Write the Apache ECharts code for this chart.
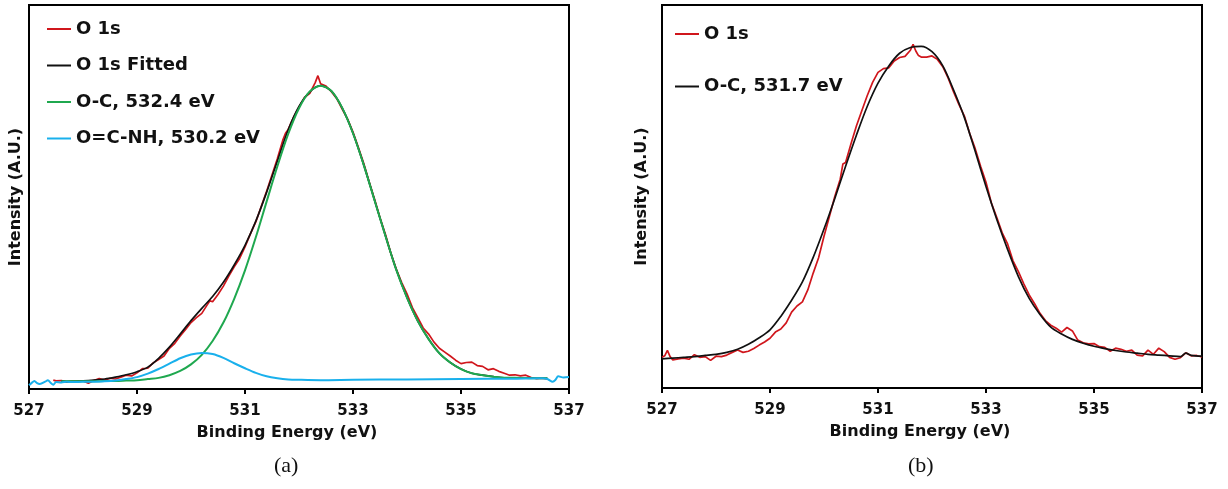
<!DOCTYPE html>
<html>
<head>
<meta charset="utf-8">
<script src="https://cdn.jsdelivr.net/npm/echarts@6/dist/echarts.min.js"></script>
<style>
html,body{margin:0;padding:0;background:#fff;}
#chart{width:1228px;height:489px;}
</style>
</head>
<body>
<div id="chart"></div>
<script>
// ---- axis ----
const xMin = 527, xMax = 537, xStep = 2;
const xTitle = 'Binding Energy (eV)';
const yTitle = 'Intensity (A.U.)';
const panelLabels = ['(a)', '(b)'];

// ---- panel (a) ----
const aNames = ['O 1s', 'O 1s Fitted', 'O-C, 532.4 eV', 'O=C-NH, 530.2 eV'];
const aRaw = [[527.45,2.3],[527.5,2.1],[527.6,2.2],[527.7,1.8],[527.8,2.0],[527.9,1.9],[528.0,2.1],[528.1,1.5],[528.2,2.2],[528.3,2.7],[528.4,2.3],[528.5,2.8],[528.6,2.6],[528.7,3.1],[528.8,3.6],[528.9,3.4],[529.0,4.2],[529.1,5.3],[529.2,5.4],[529.3,6.8],[529.4,7.7],[529.5,8.6],[529.6,10.6],[529.7,11.9],[529.8,13.8],[529.9,15.5],[530.0,17.3],[530.1,18.6],[530.2,19.7],[530.3,21.9],[530.35,23.0],[530.4,22.7],[530.5,24.6],[530.6,26.8],[530.7,29.4],[530.8,31.8],[530.9,34.0],[531.0,37.0],[531.1,40.4],[531.2,43.5],[531.3,47.5],[531.4,51.5],[531.5,55.7],[531.6,60.0],[531.7,64.8],[531.75,66.6],[531.8,67.6],[531.9,70.8],[532.0,73.4],[532.1,75.9],[532.2,77.0],[532.3,79.8],[532.35,81.6],[532.4,79.5],[532.5,78.9],[532.6,77.4],[532.7,75.6],[532.8,72.9],[532.9,70.3],[533.0,66.9],[533.1,62.9],[533.2,58.7],[533.3,53.9],[533.4,49.4],[533.5,44.6],[533.6,40.3],[533.7,35.4],[533.8,31.3],[533.9,27.8],[534.0,24.8],[534.1,21.2],[534.2,18.6],[534.3,15.9],[534.4,14.3],[534.5,12.2],[534.6,10.6],[534.7,9.6],[534.8,8.6],[534.9,7.5],[535.0,6.6],[535.1,6.9],[535.2,7.0],[535.3,6.1],[535.4,5.9],[535.5,5.0],[535.6,5.3],[535.7,4.6],[535.8,4.1],[535.9,3.6],[536.0,3.7],[536.1,3.4],[536.2,3.6],[536.3,3.0],[536.4,2.7],[536.5,2.8],[536.6,2.6]];
const aFit = [[527.6,2.0],[527.8,2.0],[528.0,2.1],[528.2,2.3],[528.4,2.6],[528.6,3.1],[528.8,3.7],[529.0,4.5],[529.2,5.7],[529.4,8.0],[529.6,10.9],[529.8,14.3],[530.0,17.8],[530.2,21.0],[530.4,24.1],[530.6,27.8],[530.8,32.3],[531.0,37.4],[531.2,43.7],[531.4,51.2],[531.6,59.4],[531.8,67.5],[532.0,73.6],[532.2,77.4],[532.4,79.0],[532.6,77.6],[532.8,73.2],[533.0,66.6],[533.2,58.3],[533.4,49.1],[533.6,39.9],[533.8,31.1],[534.0,23.8],[534.2,17.7],[534.4,13.0],[534.6,9.3],[534.8,6.9],[535.0,5.2],[535.2,4.1],[535.4,3.6],[535.6,3.2],[535.8,2.9],[536.0,2.9],[536.2,2.9],[536.4,2.8],[536.6,2.8]];
const aOC = [[527.6,2.0],[527.8,2.0],[528.0,2.0],[528.2,2.0],[528.4,2.1],[528.6,2.1],[528.8,2.2],[529.0,2.3],[529.2,2.6],[529.4,2.9],[529.6,3.6],[529.8,4.7],[530.0,6.4],[530.2,8.9],[530.4,12.5],[530.6,17.3],[530.8,23.5],[531.0,30.9],[531.2,39.5],[531.4,48.8],[531.6,58.0],[531.8,66.4],[532.0,73.1],[532.2,77.5],[532.4,79.0],[532.6,77.6],[532.8,73.2],[533.0,66.6],[533.2,58.3],[533.4,49.1],[533.6,39.9],[533.8,31.1],[534.0,23.8],[534.2,17.7],[534.4,13.0],[534.6,9.3],[534.8,6.9],[535.0,5.2],[535.2,4.1],[535.4,3.6],[535.6,3.2],[535.8,2.9],[536.0,2.9],[536.2,2.85],[536.4,2.8],[536.6,2.8]];
const aNH = [[527.0,1.0],[527.05,1.6],[527.1,2.1],[527.15,1.5],[527.2,1.3],[527.3,1.9],[527.35,2.3],[527.4,1.6],[527.45,1.1],[527.5,1.8],[527.6,1.7],[527.7,1.9],[527.8,1.8],[528.0,1.9],[528.2,1.9],[528.4,2.0],[528.6,2.2],[528.8,2.6],[529.0,3.1],[529.2,4.0],[529.4,5.2],[529.6,6.6],[529.8,8.0],[530.0,9.0],[530.2,9.4],[530.4,9.1],[530.6,8.1],[530.8,6.7],[531.0,5.4],[531.2,4.2],[531.4,3.3],[531.6,2.8],[531.8,2.5],[532.0,2.4],[532.4,2.3],[533.0,2.4],[534.0,2.5],[535.0,2.6],[536.0,2.7],[536.5,2.8],[536.6,2.6],[536.7,1.9],[536.75,2.4],[536.8,3.3],[536.9,3.0],[537.0,3.1]];

// ---- panel (b) ----
const bNames = ['O 1s', 'O-C, 531.7 eV'];
const bRaw = [[527.0,8.0],[527.05,8.4],[527.1,9.8],[527.15,8.2],[527.2,7.3],[527.3,7.6],[527.4,7.8],[527.5,7.5],[527.6,8.7],[527.7,8.0],[527.8,8.2],[527.9,7.2],[528.0,8.3],[528.1,8.2],[528.2,8.6],[528.3,9.3],[528.4,9.9],[528.5,9.3],[528.6,9.6],[528.7,10.3],[528.8,11.2],[528.9,12.0],[529.0,13.0],[529.1,14.6],[529.2,15.4],[529.3,17.0],[529.4,19.8],[529.5,21.4],[529.6,22.5],[529.7,25.6],[529.8,30.0],[529.9,34.0],[530.0,39.6],[530.1,44.8],[530.2,50.0],[530.3,54.5],[530.35,58.5],[530.4,58.9],[530.5,63.8],[530.6,68.4],[530.7,72.4],[530.8,76.3],[530.9,79.8],[531.0,82.4],[531.1,83.4],[531.2,83.6],[531.3,85.4],[531.4,86.3],[531.5,86.6],[531.6,88.2],[531.65,89.7],[531.7,88.0],[531.75,86.8],[531.8,86.4],[531.9,86.4],[532.0,86.7],[532.1,85.8],[532.2,83.9],[532.3,80.9],[532.4,77.3],[532.5,74.0],[532.6,71.0],[532.7,66.4],[532.8,62.5],[532.9,57.9],[533.0,53.7],[533.1,48.3],[533.2,44.5],[533.3,40.5],[533.4,37.6],[533.5,33.2],[533.6,30.4],[533.7,27.2],[533.8,24.3],[533.9,22.0],[534.0,19.5],[534.1,17.6],[534.2,16.4],[534.3,15.6],[534.4,14.6],[534.5,15.8],[534.6,14.9],[534.7,12.5],[534.8,11.8],[534.9,11.5],[535.0,11.6],[535.1,10.8],[535.2,10.6],[535.3,9.6],[535.4,10.4],[535.5,10.1],[535.6,9.6],[535.7,9.9],[535.8,8.6],[535.9,8.4],[536.0,9.9],[536.1,8.8],[536.2,10.4],[536.3,9.5],[536.4,8.0],[536.5,7.5],[536.6,7.9],[536.7,9.2],[536.8,8.4],[536.9,8.5],[537.0,8.1]];
const bFit = [[527.0,7.6],[527.2,7.8],[527.4,8.0],[527.6,8.2],[527.8,8.5],[528.0,8.8],[528.2,9.3],[528.4,10.1],[528.6,11.4],[528.8,13.1],[529.0,15.2],[529.2,18.7],[529.4,22.9],[529.6,27.7],[529.8,34.1],[530.0,41.5],[530.2,49.5],[530.4,57.9],[530.6,66.0],[530.8,73.5],[531.0,79.6],[531.2,84.1],[531.4,87.4],[531.6,88.9],[531.8,89.2],[532.0,87.8],[532.2,84.1],[532.4,77.8],[532.6,70.6],[532.8,61.8],[533.0,52.6],[533.2,44.0],[533.4,36.2],[533.6,29.1],[533.8,23.4],[534.0,19.2],[534.2,15.9],[534.4,14.1],[534.6,12.7],[534.8,11.7],[535.0,10.9],[535.2,10.3],[535.4,9.8],[535.6,9.4],[535.8,9.1],[536.0,8.8],[536.2,8.6],[536.4,8.4],[536.6,8.2],[536.7,9.1],[536.8,8.5],[537.0,8.3]];

const RED = '#d0161c', BLACK = '#111111', GREEN = '#1fa84f', CYAN = '#19b0ec';
const FONT = 'DejaVu Sans';

const chart = echarts.init(document.getElementById('chart'), null, {renderer: 'canvas'});

function xAxisFor(gi) {
  return {
    type: 'value', gridIndex: gi, min: xMin, max: xMax, interval: xStep,
    axisLine: {show: true, onZero: false, lineStyle: {color: '#000', width: 2}},
    axisTick: {show: true, inside: false, length: 5, lineStyle: {color: '#000', width: 2}},
    axisLabel: {show: true, margin: 15, color: '#111', fontFamily: FONT, fontWeight: 'bold', fontSize: 15},
    splitLine: {show: false},
    name: xTitle, nameLocation: 'middle', nameGap: 36,
    nameTextStyle: {color: '#111', fontFamily: FONT, fontWeight: 'bold', fontSize: 16, padding: [0, 24, 0, 0]}
  };
}
function yAxisFor(gi, gap) {
  return {
    type: 'value', gridIndex: gi, min: 0, max: 100,
    axisLine: {show: true, lineStyle: {color: '#000', width: 2}},
    axisTick: {show: false}, axisLabel: {show: false}, splitLine: {show: false},
    name: yTitle, nameLocation: 'middle', nameGap: gap, nameRotate: 90,
    nameTextStyle: {color: '#111', fontFamily: FONT, fontWeight: 'bold', fontSize: 16}
  };
}
function line(name, data, color, xi, width, smooth) {
  return {
    name: name, type: 'line', xAxisIndex: xi, yAxisIndex: xi, data: data,
    showSymbol: false, symbol: 'none', smooth: smooth,
    lineStyle: {color: color, width: width}, itemStyle: {color: color},
    silent: true
  };
}
const legendText = {color: '#111', fontFamily: FONT, fontWeight: 'bold', fontSize: 18, lineHeight: 18};

chart.setOption({
  animation: false,
  backgroundColor: '#fff',
  grid: [
    {left: 29, top: 5, width: 540, height: 384, show: true, borderColor: '#000', borderWidth: 2, backgroundColor: 'transparent'},
    {left: 662, top: 5, width: 540, height: 383, show: true, borderColor: '#000', borderWidth: 2, backgroundColor: 'transparent'}
  ],
  xAxis: [xAxisFor(0), xAxisFor(1)],
  yAxis: [yAxisFor(0, 5), yAxisFor(1, 12)],
  legend: [
    {orient: 'vertical', left: 42, top: 15, icon: 'rect', itemWidth: 24, itemHeight: 2, itemGap: 18.5,
     data: aNames, textStyle: legendText, selectedMode: false},
    {orient: 'vertical', left: 670, top: 20, icon: 'rect', itemWidth: 24, itemHeight: 2, itemGap: 34.5,
     data: bNames, textStyle: legendText, selectedMode: false}
  ],
  series: [
    line(aNames[0], aRaw, RED, 0, 1.7, false),
    line(aNames[1], aFit, BLACK, 0, 1.7, 0.3),
    line(aNames[2], aOC, GREEN, 0, 2, 0.3),
    line(aNames[3], aNH, CYAN, 0, 2, 0.3),
    line(bNames[0], bRaw, RED, 1, 1.7, false),
    line(bNames[1], bFit, BLACK, 1, 1.7, 0.3)
  ],
  graphic: [
    {type: 'text', left: 288 - 14, top: 455, style: {text: panelLabels[0], fill: '#111', font: '22px "Liberation Serif", "Times New Roman", serif'}},
    {type: 'text', left: 922 - 14, top: 455, style: {text: panelLabels[1], fill: '#111', font: '22px "Liberation Serif", "Times New Roman", serif'}}
  ]
});
</script>
</body>
</html>
